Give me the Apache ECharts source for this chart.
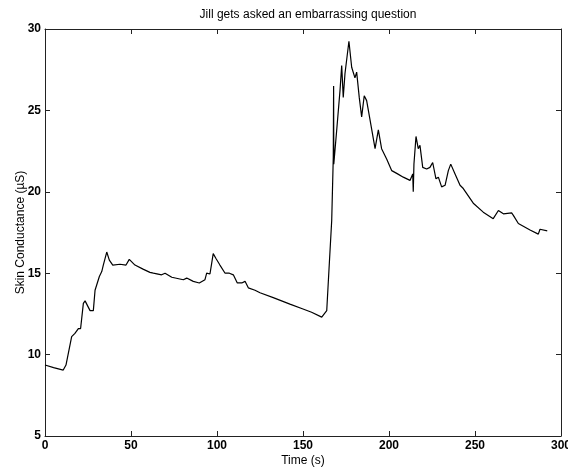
<!DOCTYPE html>
<html>
<head>
<meta charset="utf-8">
<title>Jill gets asked an embarrassing question</title>
<script src="https://cdn.jsdelivr.net/npm/echarts@6/dist/echarts.min.js"></script>
<style>
  html, body { margin: 0; padding: 0; background: #fff; }
  #chart { width: 568px; height: 468px; }
</style>
</head>
<body>
<div id="chart"></div>
<script>
// time (s)
var timeSec = [0, 5, 10.6, 12.2, 15.5, 17.4, 19.4, 20.7, 22.3, 23.3, 26.2, 28.1, 29.1, 31.6, 33, 33.9, 35.9, 37.4, 39.4,
	43.6, 47.1, 49, 52.3, 57, 61, 63, 67.8, 69.8, 73.7, 80.4, 82.4, 86.2, 89.7, 93, 94, 95.9, 96.9, 97.8, 99.4,
	101.7, 104.7, 107.2, 109.5, 111.8, 114.4, 116.3, 118.2, 122.1, 125, 132.7, 142.4, 150, 155, 160.9, 163.8,
	165.3, 166.7, 167.6, 167.8, 167.9, 169.6, 171.5, 172.5, 173.4, 174.4, 176.7, 178.3, 180.2, 181.2, 182.7,
	184.1, 185.6, 187, 189, 191.9, 193.8, 195.7, 198.7, 201.6, 205, 208.3, 212.2, 213.8, 214.1, 214.5, 215.7,
	217, 218, 219.6, 221.9, 223.8, 225.4, 227.3, 228.7, 230.6, 232.6, 234.5, 235.9, 238.4, 241.3, 243.2, 249,
	254.8, 260.6, 263.6, 266.5, 271.3, 272.3, 275.2, 282, 286.8, 287.8, 292];

// skin conductance (uS)
var conductance = [9.36, 9.2, 9.05, 9.36, 11.1, 11.3, 11.6, 11.6, 13.15, 13.3, 12.7, 12.7, 13.95, 14.8, 15.1, 15.5, 16.3, 15.8, 15.5,
	15.55, 15.5, 15.85, 15.5, 15.25, 15.05, 15.0, 14.9, 15.0, 14.75, 14.6, 14.7, 14.5, 14.4, 14.6, 15.0, 14.95, 15.6, 16.2, 15.9,
	15.5, 15.0, 15.0, 14.9, 14.4, 14.4, 14.5, 14.1, 13.95, 13.8, 13.5, 13.1, 12.8, 12.6, 12.3, 12.7,
	15.6, 18.25, 22.1, 26.5, 21.7, 23.8, 26.2, 27.75, 25.8, 27.25, 29.25, 27.65, 27.0, 27.35, 25.8,
	24.6, 25.9, 25.6, 24.4, 22.65, 23.8, 22.65, 22.0, 21.3, 21.1, 20.9, 20.7, 21.1, 20.0, 21.7, 23.4,
	22.65, 22.85, 21.5, 21.4, 21.5, 21.8, 20.8, 20.9, 20.3, 20.4, 21.3, 21.7, 21.1, 20.4, 20.2, 19.3,
	18.75, 18.35, 18.85, 18.65, 18.7, 18.55, 18.05, 17.65, 17.4, 17.7, 17.6];

var xTicks = [0, 50, 100, 150, 200, 250, 300];
var yTicks = [5, 10, 15, 20, 25, 30];

var points = timeSec.map(function (t, i) { return [t, conductance[i]]; });

var font = '"Liberation Sans", Arial, sans-serif';
var lineCol = '#222';

function boxAxis(ticks, pos, showLabel, name) {
	return {
		type: 'value',
		position: pos,
		min: ticks[0],
		max: ticks[ticks.length - 1],
		interval: ticks[1] - ticks[0],
		name: name || '',
		nameLocation: 'middle',
		nameMoveOverlap: false,
		nameTextStyle: { fontFamily: font, fontSize: 12, color: '#000' },
		axisLine: { show: true, onZero: false, lineStyle: { color: lineCol, width: 1 } },
		axisTick: { show: true, inside: true, length: 5, lineStyle: { color: lineCol } },
		axisLabel: { show: showLabel, fontFamily: font, fontSize: 12, fontWeight: 'bold', color: '#000' },
		splitLine: { show: false }
	};
}

var myChart = echarts.init(document.getElementById('chart'));
var xBottom = boxAxis(xTicks, 'bottom', true, 'Time (s)');
xBottom.nameGap = 19;
xBottom.axisLabel.margin = 4;
var yLeft = boxAxis(yTicks, 'left', true, 'Skin Conductance (\u00b5S)');
yLeft.nameGap = 18;
yLeft.axisLabel.margin = 4;

var option = {
	animation: false,
	backgroundColor: '#fff',
	title: {
		text: 'Jill gets asked an embarrassing question',
		left: 303,
		textAlign: 'center',
		top: 4,
		textStyle: { fontFamily: font, fontSize: 12, fontWeight: 'normal', color: '#000' }
	},
	grid: { left: 45, right: 7, top: 29, bottom: 32, outerBoundsMode: 'none' },
	xAxis: [xBottom, boxAxis(xTicks, 'top', false)],
	yAxis: [yLeft, boxAxis(yTicks, 'right', false)],
	series: [{
		type: 'line',
		data: points,
		showSymbol: false,
		lineStyle: { color: '#000', width: 1.2 }
	}]
};
myChart.setOption(option);
</script>
</body>
</html>
